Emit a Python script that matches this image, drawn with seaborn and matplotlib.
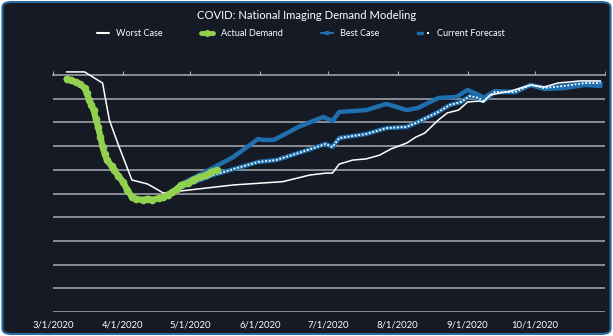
import matplotlib
matplotlib.use("Agg")
import matplotlib.pyplot as plt
import matplotlib.dates as mdates
from matplotlib.lines import Line2D
from matplotlib.patches import FancyBboxPatch
from matplotlib.legend_handler import HandlerTuple
import pandas as pd
import seaborn as sns

# Demand relative to baseline (%), read per date
worst_dates = ["2020-03-07", "2020-03-15", "2020-03-23", "2020-03-26", "2020-03-30",
               "2020-04-05", "2020-04-12", "2020-04-19", "2020-04-26", "2020-05-20",
               "2020-06-11", "2020-06-23", "2020-06-30", "2020-07-03", "2020-07-06",
               "2020-07-12", "2020-07-18", "2020-07-24", "2020-07-29", "2020-08-05",
               "2020-08-09", "2020-08-13", "2020-08-19", "2020-08-23", "2020-08-28",
               "2020-09-01", "2020-09-06", "2020-09-08", "2020-09-11", "2020-09-20",
               "2020-09-29", "2020-10-05", "2020-10-11", "2020-10-21", "2020-10-30"]
worst_vals = [1.3, 1.3, -3.4, -19.0, -29.5, -44.3, -46.0, -49.8, -49.0, -46.4,
              -45.0, -42.2, -41.4, -41.4, -37.6, -35.9, -35.4, -33.8, -31.2, -28.7,
              -26.2, -24.5, -19.0, -16.0, -14.8, -11.4, -11.0, -11.4, -8.4, -6.8,
              -4.2, -5.1, -3.4, -2.5, -2.5]

actual_dates = ["2020-03-07", "2020-03-09", "2020-03-11", "2020-03-13", "2020-03-15",
                "2020-03-16", "2020-03-17", "2020-03-18", "2020-03-19", "2020-03-20",
                "2020-03-21", "2020-03-22", "2020-03-23", "2020-03-24", "2020-03-25",
                "2020-03-27", "2020-03-28", "2020-03-30", "2020-04-01", "2020-04-03",
                "2020-04-05", "2020-04-07", "2020-04-10", "2020-04-12", "2020-04-14",
                "2020-04-17", "2020-04-19", "2020-04-21", "2020-04-23", "2020-04-25",
                "2020-04-27", "2020-04-30", "2020-05-02", "2020-05-05", "2020-05-08",
                "2020-05-10", "2020-05-13"]
actual_vals = [-1.7, -2.2, -3.0, -3.8, -5.5, -7.8, -10.5, -12.5, -14.8, -18.5,
               -21.9, -26.0, -30.4, -33.5, -35.9, -38.5, -40.1, -42.5, -45.1, -48.5,
               -51.5, -52.3, -52.7, -52.2, -52.7, -52.0, -51.5, -50.5, -49.4, -48.0,
               -46.4, -45.5, -44.3, -43.2, -42.2, -41.0, -40.1]

best_dates = ["2020-04-26", "2020-05-11", "2020-05-20", "2020-05-31", "2020-06-02",
              "2020-06-07", "2020-06-18", "2020-06-29", "2020-07-03", "2020-07-06",
              "2020-07-18", "2020-07-27", "2020-08-05", "2020-08-10", "2020-08-19",
              "2020-08-27", "2020-09-01", "2020-09-06", "2020-09-08", "2020-09-13",
              "2020-09-22", "2020-09-29", "2020-10-05", "2020-10-14", "2020-10-23",
              "2020-10-30"]
best_vals = [-46.4, -39.2, -34.6, -27.0, -27.4, -27.4, -21.9, -17.7, -19.4, -15.6,
             -14.8, -12.2, -14.8, -13.9, -9.7, -9.3, -6.3, -8.4, -9.7, -6.8,
             -7.2, -4.2, -5.9, -5.5, -4.2, -4.6]

forecast_dates = ["2020-04-26", "2020-05-11", "2020-05-31", "2020-06-08", "2020-06-18",
                  "2020-06-30", "2020-07-03", "2020-07-06", "2020-07-18", "2020-07-27",
                  "2020-08-05", "2020-08-10", "2020-08-19", "2020-08-24", "2020-08-29",
                  "2020-09-02", "2020-09-06", "2020-09-08", "2020-09-13", "2020-09-22",
                  "2020-09-29", "2020-10-05", "2020-10-14", "2020-10-23", "2020-10-30"]
forecast_vals = [-47.7, -42.2, -36.7, -35.9, -32.9, -29.1, -30.4, -26.6, -24.9, -22.4,
                 -21.9, -19.8, -15.6, -12.7, -11.4, -8.9, -9.7, -11.0, -7.2, -7.2,
                 -4.2, -5.5, -4.6, -3.4, -3.4]

tick_labels = ["3/1/2020", "4/1/2020", "5/1/2020", "6/1/2020",
               "7/1/2020", "8/1/2020", "9/1/2020", "10/1/2020"]

BG = "#161a24"
GRID = "#a9abb0"
WHITE = "#ffffff"
GREEN = "#92d050"
BLUE = "#1f6fae"

sns.set_style("dark")
plt.rcParams["font.family"] = ["Lato", "DejaVu Sans"]

def frame(dates, vals):
    return pd.DataFrame({"date": pd.to_datetime(dates), "value": vals})

worst = frame(worst_dates, worst_vals)
actual = frame(actual_dates, actual_vals)
best = frame(best_dates, best_vals)
forecast = frame(forecast_dates, forecast_vals)

fig = plt.figure(figsize=(6.13, 3.36), dpi=100, facecolor="white")
fig.patches.append(FancyBboxPatch((0.004, 0.006), 0.992, 0.988,
                                  boxstyle="round,pad=0,rounding_size=0.015",
                                  transform=fig.transFigure, facecolor=BG,
                                  edgecolor="#2b6a9e", linewidth=1.5, zorder=-10))
ax = fig.add_axes([0.0865, 0.0714, 0.9005, 0.7054])
ax.set_facecolor("none")

for v in range(-100, 0, 10):
    ax.axhline(v, color=GRID, lw=1.1, zorder=1)

sns.lineplot(data=worst, x="date", y="value", ax=ax, color=WHITE, lw=1.1,
             zorder=4, clip_on=False)
sns.lineplot(data=best, x="date", y="value", ax=ax, color=BLUE, lw=3.2, zorder=3)
sns.lineplot(data=forecast, x="date", y="value", ax=ax, color=BLUE, lw=3.2, zorder=3)
sns.lineplot(data=forecast, x="date", y="value", ax=ax, color=WHITE, lw=1.3,
             linestyle=(0, (1, 1)), zorder=3.5)
sns.lineplot(data=actual, x="date", y="value", ax=ax, color=GREEN, lw=4.5,
             marker="o", markersize=5.5, markeredgewidth=0, zorder=5)

ax.set_xlim(pd.Timestamp("2020-03-01"), pd.Timestamp("2020-11-01"))
ax.set_ylim(-100, 0)
ax.set_xlabel("")
ax.set_ylabel("")
ax.set_yticks([])

ticks = pd.date_range("2020-03-01", "2020-10-01", freq="MS")
ax.set_xticks(ticks)
ax.set_xticklabels(tick_labels)
ax.xaxis.set_minor_locator(mdates.MonthLocator(bymonthday=1))
ax.tick_params(axis="x", which="both", top=True, bottom=False, labeltop=False,
               labelbottom=True, direction="out", length=3, color=GRID,
               labelsize=6.8, labelcolor=WHITE, pad=3)
for s in ["left", "right", "bottom"]:
    ax.spines[s].set_visible(False)
ax.spines["top"].set_color(GRID)
ax.spines["top"].set_linewidth(1.1)
ax.grid(False)

fig.text(0.5, 0.955, "COVID: National Imaging Demand Modeling", ha="center",
         va="center", color=WHITE, fontsize=8.1)

handles = [
    Line2D([], [], color=WHITE, lw=1.5),
    Line2D([], [], color=GREEN, lw=3.5, marker="o", markersize=5, markeredgewidth=0),
    Line2D([], [], color=BLUE, lw=1.5, marker="s", markersize=2.5, markeredgewidth=0),
    (Line2D([], [], color=BLUE, lw=2.5),
     Line2D([], [], color=WHITE, lw=0, marker="s", markersize=2, markeredgewidth=0)),
]
labels = ["Worst Case", "Actual Demand", "Best Case", "Current Forecast"]
leg = fig.legend(handles, labels, loc="center", bbox_to_anchor=(0.491, 0.90), ncol=4,
                 frameon=False, fontsize=6.6, labelcolor=WHITE, handlelength=1.3,
                 columnspacing=4.2, handletextpad=0.8,
                 handler_map={tuple: HandlerTuple(ndivide=None)})

fig.savefig("out.png", dpi=100, facecolor=fig.get_facecolor())
